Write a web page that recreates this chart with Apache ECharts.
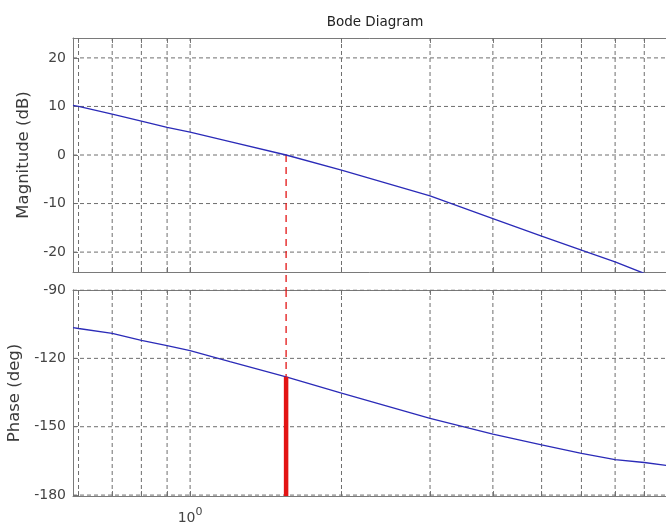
<!DOCTYPE html>
<html>
<head>
<meta charset="utf-8">
<script src="https://cdn.jsdelivr.net/npm/echarts@6/dist/echarts.min.js"></script>
<style>
html, body { margin: 0; padding: 0; background: #fff; }
#chart { width: 666px; height: 523px; }
</style>
</head>
<body>
<div id="chart"></div>
<script>
// frequency (rad/s) and read-off response
var freq = [0.585, 0.6, 0.7, 0.8, 0.9, 1, 1.2, 1.552, 2, 3, 4, 5, 6, 7, 8, 9, 10];
var magDb = [10.2, 10.0, 8.4, 7.0, 5.7, 4.7, 2.75, 0, -3.1, -8.4, -13.1, -16.7, -19.6, -22.0, -24.4, -26.3, -28.0];
var phaseDeg = [-106.5, -106.9, -109.0, -112.1, -114.4, -116.6, -121.4, -128.1, -135.3, -146.3, -153.2, -158.0, -161.7, -164.4, -165.7, -167.2, -168.4];

// crossover frequency and phase there
var wc = 1.552;
var pmPhase = -128.1;

// grid / ticks (only the ones inside the visible crop)
var gridFreq = [0.6, 0.7, 0.8, 0.9, 1, 2, 3, 4, 5, 6, 7, 8];
var xLabelFreq = [1];
var magTicks = [-20, -10, 0, 10, 20];
var phaseTicks = [-180, -150, -120, -90];
var magRange = [-24.1, 24.1];
var phaseRange = [-180.4, -90];
var freqRange = [0.585, 10];

var lg = function (v) { return Math.log10(v); };
var FONT = 'DejaVu Sans';
var BLUE = '#2b2bb8';
var RED = '#e31414';
var AXIS = '#7a7a7a';
var gridStyle = { color: '#6e6e6e', width: 1, type: [4, 3] };

// layout (axes run past the right edge of the window, like the crop)
var g1 = { left: 73, top: 38, width: 620, height: 234 };
var g2 = { left: 73, top: 290, width: 620, height: 206 };
// dB per pixel in top panel, to let the dashed marker run across the gap
var dbPerPx = (magRange[1] - magRange[0]) / g1.height;
var gapDb = (g2.top - (g1.top + g1.height)) * dbPerPx;

// dashed grid drawn as plain two-point line series
function gridSeries(xi, yi, yRange, hTicks) {
  var out = [];
  function seg(data) {
    out.push({
      type: 'line', xAxisIndex: xi, yAxisIndex: yi, z: 1,
      showSymbol: false, silent: true, lineStyle: gridStyle, data: data
    });
  }
  gridFreq.forEach(function (f) { seg([[lg(f), yRange[0]], [lg(f), yRange[1]]]); });
  hTicks.forEach(function (t) { seg([[lg(freqRange[0]), t], [lg(freqRange[1]), t]]); });
  return out;
}

function gridOpt(g) {
  return Object.assign({ show: false, containLabel: false, outerBoundsMode: 'none' }, g);
}

function xAxisOpt(idx, pos, labels) {
  return {
    type: 'value', gridIndex: idx, position: pos,
    min: lg(freqRange[0]), max: lg(freqRange[1]),
    splitLine: { show: false },
    axisLine: { show: true, onZero: false, lineStyle: { color: AXIS, width: 1 } },
    axisTick: { show: true, inside: true, length: 5, customValues: gridFreq.map(lg), lineStyle: { color: AXIS } },
    axisLabel: labels ? {
      customValues: xLabelFreq.map(lg), margin: 11,
      formatter: function (v) { return '{b|10}{s|' + Math.round(v) + '}'; },
      rich: {
        b: { fontSize: 14, color: '#444', fontFamily: FONT },
        s: { fontSize: 11, color: '#444', fontFamily: FONT, padding: [0, 0, 12, 0] }
      }
    } : { show: false }
  };
}

function yAxisOpt(idx, range, ticks, name, gap) {
  return {
    type: 'value', gridIndex: idx, min: range[0], max: range[1],
    splitLine: { show: false },
    axisLine: { show: true, onZero: false, lineStyle: { color: AXIS, width: 1 } },
    axisTick: { show: true, inside: true, length: 5, customValues: ticks, lineStyle: { color: AXIS } },
    axisLabel: { customValues: ticks, color: '#444', fontSize: 14, fontFamily: FONT, margin: 7 },
    name: name, nameLocation: 'middle', nameGap: gap, nameRotate: 90,
    nameTextStyle: { color: '#3a3a3a', fontSize: 16.5, fontFamily: FONT }
  };
}

var series = [].concat(
  gridSeries(0, 0, magRange, magTicks),
  gridSeries(2, 1, phaseRange, phaseTicks),
  [
    {
      type: 'line', xAxisIndex: 0, yAxisIndex: 0, z: 3,
      showSymbol: false, silent: true, clip: true,
      lineStyle: { color: BLUE, width: 1.3 },
      data: freq.map(function (f, i) { return [lg(f), magDb[i]]; })
    },
    {
      type: 'line', xAxisIndex: 2, yAxisIndex: 1, z: 3,
      showSymbol: false, silent: true, clip: true,
      lineStyle: { color: BLUE, width: 1.3 },
      data: freq.map(function (f, i) { return [lg(f), phaseDeg[i]]; })
    },
    {
      // dashed crossover marker, top panel down through the gap
      type: 'line', xAxisIndex: 0, yAxisIndex: 0, z: 2,
      showSymbol: false, silent: true, clip: false,
      lineStyle: { color: RED, width: 1.3, type: [7, 5] },
      data: [[lg(wc), 0], [lg(wc), magRange[0] - gapDb]]
    },
    {
      type: 'line', xAxisIndex: 2, yAxisIndex: 1, z: 2,
      showSymbol: false, silent: true,
      lineStyle: { color: RED, width: 1.3, type: [7, 5] },
      data: [[lg(wc), phaseRange[1]], [lg(wc), pmPhase]]
    },
    {
      // phase margin bar
      type: 'line', xAxisIndex: 2, yAxisIndex: 1, z: 4,
      showSymbol: false, silent: true,
      lineStyle: { color: RED, width: 4.5 },
      data: [[lg(wc), phaseRange[0]], [lg(wc), pmPhase]]
    }
  ]
);

var chart = echarts.init(document.getElementById('chart'));
chart.setOption({
  animation: false,
  textStyle: { fontFamily: FONT },
  title: {
    text: 'Bode Diagram', left: 370, top: 10, textAlign: 'center',
    textStyle: { fontSize: 13.5, fontWeight: 'normal', color: '#222', fontFamily: FONT }
  },
  grid: [gridOpt(g1), gridOpt(g2)],
  xAxis: [
    xAxisOpt(0, 'bottom', false), xAxisOpt(0, 'top', false),
    xAxisOpt(1, 'bottom', true), xAxisOpt(1, 'top', false)
  ],
  yAxis: [
    yAxisOpt(0, magRange, magTicks, 'Magnitude (dB)', 33),
    yAxisOpt(1, phaseRange, phaseTicks, 'Phase (deg)', 47)
  ],
  series: series
});
</script>
</body>
</html>
